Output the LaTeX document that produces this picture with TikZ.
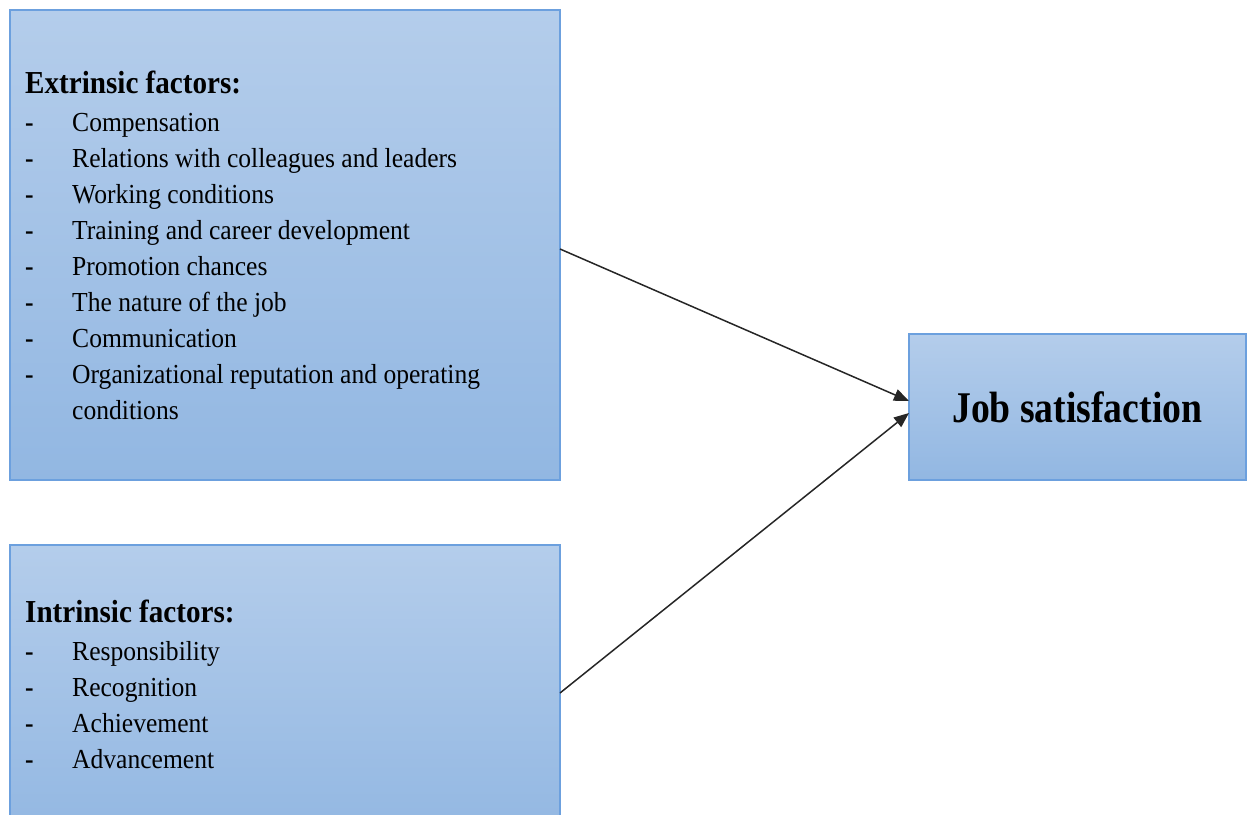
\documentclass[tikz,border=0pt]{standalone}
\usepackage{fontspec}
\setmainfont{Liberation Serif}
\newfontfamily\bodyfont[FakeStretch=0.93]{Liberation Serif}
\newfontfamily\headfont[FakeStretch=0.91]{Liberation Serif}
\newfontfamily\jobfont[FakeStretch=0.86]{Liberation Serif}
\usetikzlibrary{arrows.meta}
\definecolor{boxtop}{RGB}{180,205,235}
\definecolor{boxbot}{RGB}{146,183,226}
\definecolor{boxborder}{RGB}{108,160,222}
\tikzset{
  box/.style={draw=boxborder, line width=1.3pt, top color=boxtop, bottom color=boxbot,
    rectangle, inner sep=0pt, outer sep=0pt, anchor=north west},
  itemtext/.style={anchor=base west, inner sep=0pt, font=\bodyfont\fontsize{27.5}{32}\selectfont},
  bullettext/.style={anchor=base west, inner sep=0pt, font=\bodyfont\bfseries\fontsize{27.5}{32}\selectfont},
  headtext/.style={anchor=base west, inner sep=0pt, font=\headfont\bfseries\fontsize{32}{36}\selectfont},
  jobtext/.style={anchor=base west, inner sep=0pt, font=\jobfont\bfseries\fontsize{43.8}{48}\selectfont},
  conn/.style={-{Triangle[length=15pt,width=12pt]}, line width=1.5pt, black!85}
}
\begin{document}
\begin{tikzpicture}[x=1pt,y=-1pt]
\useasboundingbox (0,0) rectangle (1253,814);
\clip (0,0) rectangle (1253,814);
% boxes
\node[box, minimum width=550pt, minimum height=470pt] (ext) at (10,10) {};
\node[box, minimum width=550pt, minimum height=296pt] (int) at (10,545) {};
\node[box, minimum width=337pt, minimum height=146pt] (job) at (909,334) {};
% extrinsic text
\node[headtext] (eh) at (25,93) {Extrinsic factors:};
\node[bullettext] (ed1) at (25,131) {-};
\node[itemtext] (ei1) at (72,131) {Compensation};
\node[bullettext] (ed2) at (25,167.1) {-};
\node[itemtext] (ei2) at (72,167.1) {Relations with colleagues and leaders};
\node[bullettext] (ed3) at (25,203.2) {-};
\node[itemtext] (ei3) at (72,203.2) {Working conditions};
\node[bullettext] (ed4) at (25,239.3) {-};
\node[itemtext] (ei4) at (72,239.3) {Training and career development};
\node[bullettext] (ed5) at (25,275.4) {-};
\node[itemtext] (ei5) at (72,275.4) {Promotion chances};
\node[bullettext] (ed6) at (25,311.5) {-};
\node[itemtext] (ei6) at (72,311.5) {The nature of the job};
\node[bullettext] (ed7) at (25,347.6) {-};
\node[itemtext] (ei7) at (72,347.6) {Communication};
\node[bullettext] (ed8) at (25,383.7) {-};
\node[itemtext] (ei8) at (72,383.7) {Organizational reputation and operating};
\node[itemtext] (ei9) at (72,419.8) {conditions};
% intrinsic text
\node[headtext] (ih) at (25,622) {Intrinsic factors:};
\node[bullettext] (id1) at (25,660) {-};
\node[itemtext] (ii1) at (72,660) {Responsibility};
\node[bullettext] (id2) at (25,696) {-};
\node[itemtext] (ii2) at (72,696) {Recognition};
\node[bullettext] (id3) at (25,732) {-};
\node[itemtext] (ii3) at (72,732) {Achievement};
\node[bullettext] (id4) at (25,768) {-};
\node[itemtext] (ii4) at (72,768) {Advancement};
% job
\node[jobtext] (jt) at (952,422) {Job satisfaction};
% connectors
\draw[conn] ([yshift=-4pt]ext.east) -- ([yshift=6pt]job.west);
\draw[conn] (int.east) -- ([yshift=-6pt]job.west);
\end{tikzpicture}
\end{document}
